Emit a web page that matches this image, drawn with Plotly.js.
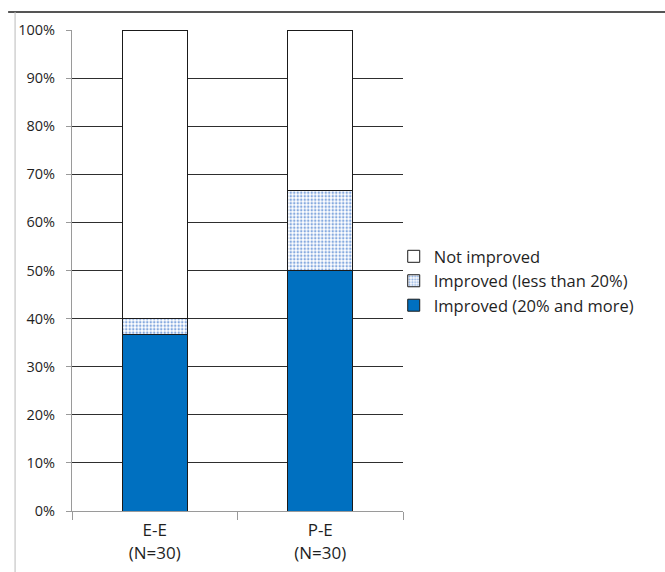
<!DOCTYPE html>
<html>
<head>
<meta charset="utf-8">
<script src="https://cdn.plot.ly/plotly-3.0.1.min.js"></script>
<style>
  html, body { margin: 0; padding: 0; background: #fff; }
  #chart { width: 665px; height: 572px; }
</style>
</head>
<body>
<div id="chart"></div>
<script>
// Groups and share of patients per outcome (percent of N=30)
const groups = ['E-E<br>(N=30)', 'P-E<br>(N=30)'];
const improvedStrong = [36.7, 50.0];   // Improved (20% and more)
const improvedWeak   = [3.3, 16.7];    // Improved (less than 20%)
const notImproved    = [60.0, 33.3];   // Not improved
const yTicks = [0, 10, 20, 30, 40, 50, 60, 70, 80, 90, 100];
const yTickText = yTicks.map(v => v + '%');

const FONT = '"Open Sans", "Noto Sans", sans-serif';
const TEXT = '#1f1f1f';
const barLine = { color: '#1a1a1a', width: 1 };

const traces = [
  {
    type: 'bar', name: 'Improved (20% and more)',
    x: groups, y: improvedStrong,
    marker: { color: '#0070c0', line: barLine },
    hoverinfo: 'skip'
  },
  {
    type: 'bar', name: 'Improved (less than 20%)',
    x: groups, y: improvedWeak,
    marker: {
      color: '#ffffff', line: barLine,
      pattern: { shape: '.', fgcolor: '#86aadf', bgcolor: '#ffffff', size: 3.5, solidity: 0.4 }
    },
    hoverinfo: 'skip'
  },
  {
    type: 'bar', name: 'Not improved',
    x: groups, y: notImproved,
    marker: { color: '#ffffff', line: barLine },
    hoverinfo: 'skip'
  }
];

const layout = {
  width: 665, height: 572,
  margin: { l: 72, r: 262, t: 30, b: 61 },
  paper_bgcolor: '#ffffff', plot_bgcolor: '#ffffff',
  barmode: 'stack',
  bargap: 0.607,
  showlegend: true,
  font: { family: FONT, color: TEXT },
  legend: {
    traceorder: 'reversed',
    x: 0.972, xanchor: 'left', y: 0.478, yanchor: 'middle',
    font: { family: FONT, size: 16.5, color: TEXT },
    itemwidth: 30, tracegroupgap: 0,
    bgcolor: 'rgba(0,0,0,0)'
  },
  xaxis: {
    type: 'category',
    showline: true, linecolor: '#9a9a9a', linewidth: 1,
    ticks: 'outside', tickson: 'boundaries', ticklen: 8, tickcolor: '#9a9a9a',
    ticklabelstandoff: 4,
    tickfont: { family: FONT, size: 17, color: TEXT },
    showgrid: false, zeroline: false
  },
  yaxis: {
    range: [0, 100],
    tickvals: yTicks, ticktext: yTickText,
    showline: true, linecolor: '#9a9a9a', linewidth: 1,
    ticks: 'outside', ticklen: 5, tickcolor: '#9a9a9a',
    ticklabelstandoff: 8,
    tickfont: { family: FONT, size: 14.5, color: TEXT },
    showgrid: true, gridcolor: '#2e2e2e', gridwidth: 1,
    zeroline: false
  },
  shapes: [
    // frame rule along the top
    { type: 'line', xref: 'paper', yref: 'paper', x0: -0.193, x1: 1.8, y0: 1.0375, y1: 1.0375,
      line: { color: '#555', width: 2 } },
    // frame rule down the left side
    { type: 'line', xref: 'paper', yref: 'paper', x0: -0.172, x1: -0.172, y0: 1.0375, y1: -0.13,
      line: { color: '#bbb', width: 1 } }
  ]
};

Plotly.newPlot('chart', traces, layout, { displayModeBar: false, staticPlot: true });
</script>
</body>
</html>
